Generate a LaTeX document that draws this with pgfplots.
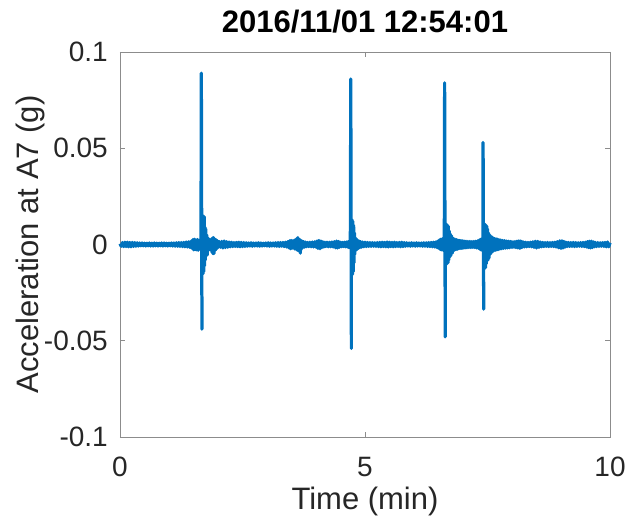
\documentclass[border=0pt]{standalone}
\usepackage{fontspec}
\setmainfont{Liberation Sans}
\usepackage{pgfplots}
\pgfplotsset{compat=1.18}
\definecolor{mblue}{rgb}{0,0.447,0.741}
\definecolor{axgray}{rgb}{0.55,0.55,0.55}
\definecolor{txt}{rgb}{0.15,0.15,0.15}

\begin{document}
\begin{tikzpicture}
\path[use as bounding box] (-120pt,-89pt) rectangle (509pt,437pt);
\begin{axis}[
  scale only axis,
  width=490pt, height=385pt,
  xmin=0, xmax=10, ymin=-0.1, ymax=0.1,
  xtick={0,5,10}, xticklabels={0,5,10},
  ytick={-0.1,-0.05,0,0.05,0.1},
  yticklabels={-0.1,-0.05,0,0.05,0.1},
  tick align=inside,
  major tick length=5pt,
  axis line style={axgray, line width=0.8pt},
  every tick/.style={axgray, line width=0.8pt},
  tick label style={font=\fontsize{28}{30}\selectfont, text=txt},
  xticklabel style={anchor=base, yshift=-40pt},
  yticklabel style={anchor=east, inner sep=0pt, xshift=-12pt},
  title={2016/11/01 12:54:01},
  title style={font=\fontsize{31}{33}\selectfont\bfseries, text=black,
    at={(axis description cs:0.5,1.0345)}, anchor=base},
  xlabel={Time (min)},
  xlabel style={font=\fontsize{31}{33}\selectfont, text=txt,
    at={(axis description cs:0.5,-0.1896)}, anchor=base},
  ylabel={Acceleration at A7 (g)},
  ylabel style={font=\fontsize{31}{33}\selectfont, text=txt,
    at={(axis description cs:-0.1673,0.5)}, anchor=base},
  clip=false,
]
% accelerometer record, channel A7
\addplot[mblue, line width=3.2pt, line join=round] coordinates {
(0.000,0.0004) (0.025,-0.0009) (0.050,0.0010) (0.075,-0.0011) (0.100,0.0012)
(0.125,-0.0011) (0.150,0.0012) (0.175,-0.0012) (0.200,0.0011) (0.225,-0.0012)
(0.250,0.0011) (0.275,-0.0010) (0.300,0.0010) (0.325,-0.0009) (0.350,0.0009)
(0.375,-0.0008) (0.400,0.0008) (0.425,-0.0007) (0.450,0.0008) (0.475,-0.0007)
(0.500,0.0007) (0.525,-0.0008) (0.550,0.0007) (0.575,-0.0007) (0.600,0.0008)
(0.625,-0.0008) (0.650,0.0007) (0.675,-0.0008) (0.700,0.0008) (0.725,-0.0007)
(0.750,0.0007) (0.775,-0.0008) (0.800,0.0007) (0.825,-0.0007) (0.850,0.0008)
(0.875,-0.0008) (0.900,0.0008) (0.925,-0.0007) (0.950,0.0007) (0.975,-0.0008)
(1.000,0.0007) (1.025,-0.0007) (1.050,0.0008) (1.075,-0.0008) (1.100,0.0008)
(1.125,-0.0009) (1.150,0.0009) (1.175,-0.0009) (1.200,0.0010) (1.225,-0.0010)
(1.250,0.0010) (1.275,-0.0011) (1.300,0.0011) (1.325,-0.0012) (1.350,0.0013)
(1.375,-0.0013) (1.400,0.0014) (1.425,-0.0015) (1.450,0.0017) (1.470,-0.0020)
(1.49,0.0026) (1.505,-0.0028) (1.52,0.0027) (1.535,-0.0026) (1.55,0.0024)
(1.565,-0.0028) (1.58,0.0026) (1.595,-0.0030) (1.61,0.0022) (1.625,-0.0024)
(1.64,0.0022) (1.652,-0.0024)
(1.660,0.0890) (1.672,-0.0440)
(1.670,0.0148) (1.678,-0.0154) (1.686,0.0150) (1.694,-0.0152) (1.702,0.0148)
(1.710,-0.0140) (1.718,0.0145) (1.726,-0.0110) (1.734,0.0090) (1.742,-0.0080)
(1.750,0.0080) (1.760,-0.0058) (1.770,0.0050) (1.780,-0.0055)
(1.79,0.0035) (1.80,-0.0032) (1.81,0.0030) (1.82,-0.0028) (1.83,0.0025)
(1.84,-0.0026) (1.85,0.0024) (1.86,-0.0030) (1.87,0.0030) (1.88,-0.0042)
(1.89,0.0034) (1.90,-0.0048) (1.91,0.0036) (1.92,-0.0046) (1.93,0.0030)
(1.945,-0.0030) (1.96,0.0025) (1.975,-0.0022) (1.99,0.0019)
(2.000,-0.0016) (2.025,0.0015) (2.050,-0.0014) (2.075,0.0016) (2.100,-0.0018)
(2.125,0.0018) (2.150,-0.0016) (2.175,0.0015) (2.200,-0.0014) (2.225,0.0013)
(2.250,-0.0012) (2.275,0.0012) (2.300,-0.0011) (2.325,0.0010) (2.350,-0.0010)
(2.375,0.0011) (2.400,-0.0011) (2.425,0.0012) (2.450,-0.0012) (2.475,0.0011)
(2.500,-0.0011) (2.525,0.0010) (2.550,-0.0010) (2.575,0.0009) (2.600,-0.0009)
(2.625,0.0008) (2.650,-0.0008) (2.675,0.0009) (2.700,-0.0009) (2.725,0.0008)
(2.750,-0.0008) (2.775,0.0008) (2.800,-0.0008) (2.825,0.0009) (2.850,-0.0009)
(2.875,0.0008) (2.900,-0.0008) (2.925,0.0007) (2.950,-0.0007) (2.975,0.0008)
(3.000,-0.0008) (3.025,0.0009) (3.050,-0.0009) (3.075,0.0008) (3.100,-0.0008)
(3.125,0.0008) (3.150,-0.0008) (3.175,0.0009) (3.200,-0.0009) (3.225,0.0010)
(3.250,-0.0010) (3.275,0.0010) (3.300,-0.0009) (3.325,0.0011) (3.350,-0.0011)
(3.375,0.0012) (3.400,-0.0013) (3.425,0.0015) (3.450,-0.0018) (3.465,0.0020)
(3.48,-0.0022) (3.495,0.0021) (3.51,-0.0020) (3.525,0.0019) (3.54,-0.0018)
(3.555,0.0022) (3.57,-0.0024) (3.585,0.0026) (3.60,-0.0026) (3.61,0.0032)
(3.62,-0.0030) (3.63,0.0036) (3.64,-0.0030) (3.65,0.0028) (3.66,-0.0036)
(3.67,0.0025) (3.68,-0.0045) (3.69,0.0022) (3.70,-0.0024) (3.715,0.0018)
(3.73,-0.0016) (3.745,0.0015) (3.76,-0.0014) (3.78,0.0013) (3.80,-0.0012)
(3.825,0.0011) (3.850,-0.0011) (3.875,0.0012) (3.900,-0.0012) (3.925,0.0013)
(3.950,-0.0013) (3.975,0.0014) (4.000,-0.0014) (4.020,0.0018) (4.040,-0.0020)
(4.060,0.0021) (4.080,-0.0022) (4.100,0.0018) (4.120,-0.0016) (4.140,0.0014)
(4.160,-0.0013) (4.180,0.0012) (4.200,-0.0011) (4.225,0.0012) (4.250,-0.0012)
(4.275,0.0012) (4.300,-0.0012) (4.325,0.0013) (4.350,-0.0013) (4.375,0.0015)
(4.400,-0.0017) (4.420,0.0018) (4.440,-0.0018) (4.460,0.0016) (4.480,-0.0014)
(4.500,0.0012) (4.520,-0.0012) (4.540,0.0011) (4.560,-0.0011) (4.580,0.0012)
(4.600,-0.0012) (4.620,0.0013) (4.640,-0.0013) (4.655,0.0015) (4.670,-0.0016)
(4.685,0.0015) (4.700,-0.0018)
(4.710,0.0860) (4.722,-0.0540)
(4.720,0.0130) (4.728,-0.0160) (4.736,0.0128) (4.744,-0.0155) (4.752,0.0120)
(4.760,-0.0140) (4.768,0.0100) (4.776,-0.0095) (4.784,0.0060) (4.792,-0.0050)
(4.80,0.0035) (4.81,-0.0032) (4.82,0.0030) (4.83,-0.0027) (4.84,0.0024)
(4.85,-0.0022) (4.86,0.0020) (4.87,-0.0019) (4.88,0.0018) (4.895,-0.0016)
(4.910,0.0015) (4.930,-0.0014) (4.950,0.0013) (4.975,-0.0012) (5.000,0.0012)
(5.025,-0.0011) (5.050,0.0011) (5.075,-0.0010) (5.100,0.0010) (5.125,-0.0010)
(5.150,0.0010) (5.175,-0.0009) (5.200,0.0009) (5.225,-0.0010) (5.250,0.0010)
(5.275,-0.0011) (5.300,0.0011) (5.325,-0.0012) (5.350,0.0012) (5.375,-0.0011)
(5.400,0.0011) (5.425,-0.0012) (5.450,0.0013) (5.475,-0.0013) (5.500,0.0012)
(5.525,-0.0011) (5.550,0.0011) (5.575,-0.0012) (5.600,0.0012) (5.625,-0.0011)
(5.650,0.0010) (5.675,-0.0010) (5.700,0.0011) (5.725,-0.0012) (5.750,0.0012)
(5.775,-0.0011) (5.800,0.0010) (5.825,-0.0009) (5.850,0.0009) (5.875,-0.0008)
(5.900,0.0008) (5.925,-0.0009) (5.950,0.0009) (5.975,-0.0008) (6.000,0.0008)
(6.025,-0.0009) (6.050,0.0009) (6.075,-0.0008) (6.100,0.0008) (6.125,-0.0008)
(6.150,0.0008) (6.175,-0.0009) (6.200,0.0009) (6.225,-0.0009) (6.250,0.0009)
(6.275,-0.0010) (6.300,0.0010) (6.325,-0.0011) (6.350,0.0011) (6.375,-0.0012)
(6.400,0.0012) (6.425,-0.0013) (6.450,0.0014) (6.470,-0.0016) (6.490,0.0018)
(6.505,-0.0020) (6.52,0.0024) (6.535,-0.0026) (6.55,0.0028) (6.565,-0.0028)
(6.58,0.0030) (6.595,-0.0030) (6.61,0.0030) (6.618,-0.0030)
(6.625,0.0840) (6.637,-0.0480)
(6.636,0.0105) (6.644,-0.0100) (6.652,0.0105) (6.660,-0.0102) (6.668,0.0104)
(6.676,-0.0100) (6.684,0.0100) (6.692,-0.0095) (6.700,0.0095) (6.710,-0.0080)
(6.720,0.0070) (6.730,-0.0065) (6.740,0.0055) (6.750,-0.0058) (6.765,0.0045)
(6.780,-0.0045) (6.79,0.0034) (6.80,-0.0032) (6.81,0.0030) (6.82,-0.0030)
(6.835,0.0028) (6.85,-0.0026) (6.865,0.0025) (6.88,-0.0025) (6.895,0.0023)
(6.91,-0.0022) (6.925,0.0021) (6.94,-0.0021) (6.955,0.0020) (6.97,-0.0020)
(6.985,0.0019) (7.000,-0.0019) (7.020,0.0018) (7.040,-0.0018) (7.060,0.0017)
(7.080,-0.0017) (7.100,0.0016) (7.120,-0.0016) (7.140,0.0016) (7.160,-0.0016)
(7.180,0.0015) (7.200,-0.0015) (7.220,0.0016) (7.240,-0.0016) (7.260,0.0017)
(7.280,-0.0018) (7.300,0.0019) (7.320,-0.0020) (7.335,0.0024) (7.35,-0.0026)
(7.36,0.0027) (7.37,-0.0028) (7.38,0.0029) (7.39,-0.0030) (7.400,0.0030)
(7.405,-0.0032)
(7.410,0.0530) (7.422,-0.0336)
(7.420,0.0105) (7.428,-0.0128) (7.436,0.0105) (7.444,-0.0125) (7.452,0.0104)
(7.460,-0.0120) (7.468,0.0100) (7.476,-0.0100) (7.484,0.0095) (7.492,-0.0085)
(7.500,0.0080) (7.510,-0.0080) (7.520,0.0060) (7.530,-0.0070) (7.545,0.0050)
(7.560,-0.0050) (7.57,0.0042) (7.58,-0.0040) (7.59,0.0039) (7.60,-0.0038)
(7.615,0.0034) (7.63,-0.0032) (7.645,0.0031) (7.66,-0.0030) (7.675,0.0029)
(7.69,-0.0028) (7.705,0.0027) (7.72,-0.0026) (7.735,0.0025) (7.75,-0.0024)
(7.770,0.0023) (7.790,-0.0022) (7.810,0.0021) (7.830,-0.0020) (7.850,0.0020)
(7.870,-0.0019) (7.890,0.0018) (7.910,-0.0018) (7.930,0.0017) (7.950,-0.0017)
(7.975,0.0016) (8.000,-0.0015) (8.020,0.0014) (8.040,-0.0014) (8.060,0.0015)
(8.080,-0.0016) (8.100,0.0017) (8.120,-0.0018) (8.140,0.0019) (8.160,-0.0020)
(8.180,0.0018) (8.200,-0.0016) (8.225,0.0014) (8.250,-0.0013) (8.275,0.0012)
(8.300,-0.0012) (8.325,0.0011) (8.350,-0.0011) (8.375,0.0012) (8.400,-0.0012)
(8.425,0.0014) (8.450,-0.0015) (8.475,0.0017) (8.500,-0.0018) (8.525,0.0016)
(8.550,-0.0015) (8.575,0.0013) (8.600,-0.0012) (8.625,0.0011) (8.650,-0.0011)
(8.675,0.0010) (8.700,-0.0010) (8.725,0.0011) (8.750,-0.0011) (8.775,0.0010)
(8.800,-0.0010) (8.825,0.0011) (8.850,-0.0011) (8.875,0.0012) (8.900,-0.0013)
(8.925,0.0015) (8.950,-0.0017) (8.975,0.0019) (9.000,-0.0020) (9.020,0.0019)
(9.040,-0.0018) (9.060,0.0016) (9.080,-0.0014) (9.100,0.0012) (9.125,-0.0011)
(9.150,0.0011) (9.175,-0.0010) (9.200,0.0010) (9.225,-0.0010) (9.250,0.0011)
(9.275,-0.0011) (9.300,0.0010) (9.325,-0.0010) (9.350,0.0009) (9.375,-0.0009)
(9.400,0.0010) (9.425,-0.0010) (9.450,0.0011) (9.475,-0.0011) (9.500,0.0012)
(9.520,-0.0013) (9.540,0.0015) (9.560,-0.0016) (9.580,0.0017) (9.600,-0.0018)
(9.620,0.0017) (9.640,-0.0016) (9.660,0.0014) (9.680,-0.0012) (9.700,0.0011)
(9.725,-0.0011) (9.750,0.0010) (9.775,-0.0010) (9.800,0.0009) (9.825,-0.0009)
(9.850,0.0010) (9.875,-0.0010) (9.900,0.0011) (9.925,-0.0012) (9.950,0.0013)
(9.975,-0.0012) (10.000,0.0009)
};
\end{axis}
\end{tikzpicture}
\end{document}
